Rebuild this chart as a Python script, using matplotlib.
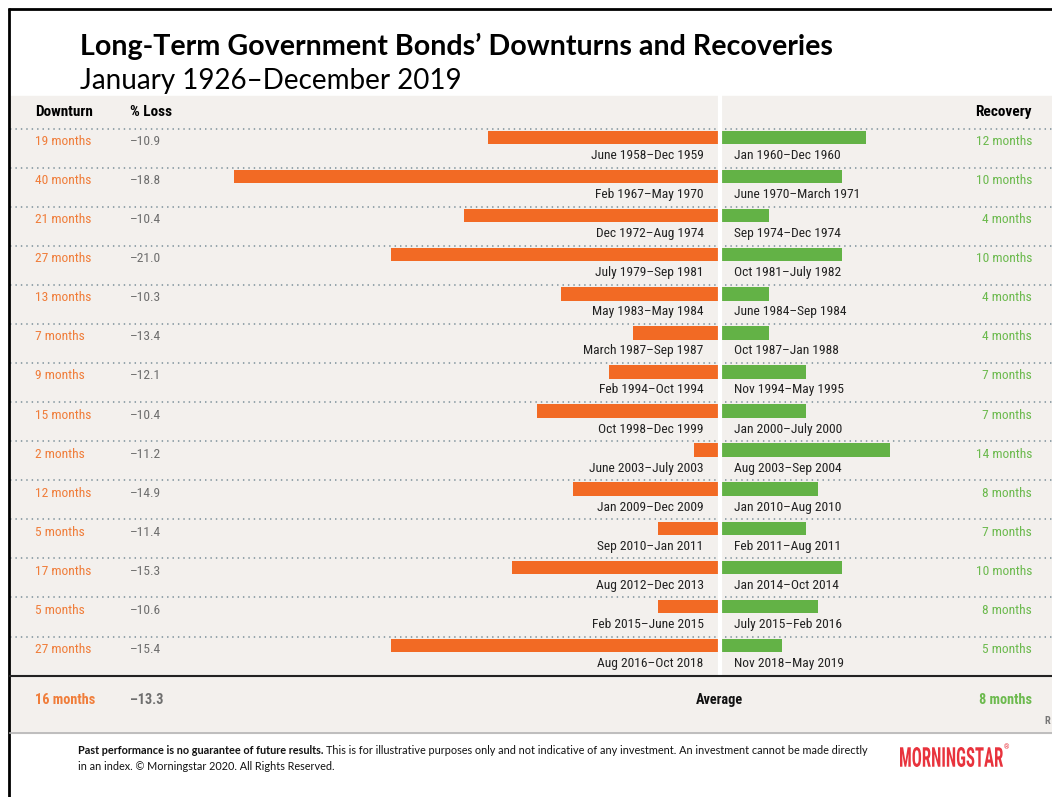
import matplotlib
matplotlib.use("Agg")
import matplotlib.pyplot as plt
from matplotlib import font_manager
from matplotlib.textpath import TextPath
from matplotlib.patches import PathPatch
from matplotlib.transforms import Affine2D

# --- data ---------------------------------------------------------------
downturn_months = [19, 40, 21, 27, 13, 7, 9, 15, 2, 12, 5, 17, 5, 27]
pct_loss = [-10.9, -18.8, -10.4, -21.0, -10.3, -13.4, -12.1, -10.4,
            -11.2, -14.9, -11.4, -15.3, -10.6, -15.4]
recovery_months = [12, 10, 4, 10, 4, 4, 7, 7, 14, 8, 7, 10, 8, 5]
downturn_periods = [
    "June 1958\u2013Dec 1959", "Feb 1967\u2013May 1970", "Dec 1972\u2013Aug 1974",
    "July 1979\u2013Sep 1981", "May 1983\u2013May 1984", "March 1987\u2013Sep 1987",
    "Feb 1994\u2013Oct 1994", "Oct 1998\u2013Dec 1999", "June 2003\u2013July 2003",
    "Jan 2009\u2013Dec 2009", "Sep 2010\u2013Jan 2011", "Aug 2012\u2013Dec 2013",
    "Feb 2015\u2013June 2015", "Aug 2016\u2013Oct 2018",
]
recovery_periods = [
    "Jan 1960\u2013Dec 1960", "June 1970\u2013March 1971", "Sep 1974\u2013Dec 1974",
    "Oct 1981\u2013July 1982", "June 1984\u2013Sep 1984", "Oct 1987\u2013Jan 1988",
    "Nov 1994\u2013May 1995", "Jan 2000\u2013July 2000", "Aug 2003\u2013Sep 2004",
    "Jan 2010\u2013Aug 2010", "Feb 2011\u2013Aug 2011", "Jan 2014\u2013Oct 2014",
    "July 2015\u2013Feb 2016", "Nov 2018\u2013May 2019",
]
avg_downturn = 16
avg_loss = -13.3
avg_recovery = 8

# --- style --------------------------------------------------------------
ORANGE = "#f26a24"
GREEN = "#63b246"
ORANGE_TXT = "#f07d3a"
GREEN_TXT = "#6cba4e"
GREY_TXT = "#6e6e6e"
PANEL = "#f3f0ed"
DOTS = "#8d9ea6"
LOGO_RED = "#e8333d"


def pick_font(names):
    for name in names:
        try:
            font_manager.findfont(font_manager.FontProperties(family=name),
                                  fallback_to_default=False)
            return name
        except ValueError:
            continue
    return "DejaVu Sans"


NARROW = pick_font(["Liberation Sans Narrow", "Roboto Condensed", "Liberation Sans"])
TITLE_FONT = pick_font(["Lato", "Open Sans", "DejaVu Sans"])

W, H = 1052, 797
CENTER = 719.5          # x of the divider between losses and recoveries
PX_PER_MONTH = 12.1
ROW0 = 128.5            # first dotted separator
PITCH = 39.08
LEFT = 10

fig = plt.figure(figsize=(W / 100, H / 100), dpi=100)
ax = fig.add_axes([0, 0, 1, 1])
ax.set_xlim(0, W)
ax.set_ylim(H, 0)
ax.axis("off")

# frame lines
ax.plot([8.5, 8.5], [8, H], color="black", lw=2, solid_capstyle="butt")
ax.plot([8, W], [8.5, 8.5], color="black", lw=2, solid_capstyle="butt")

# grey panel
ax.add_patch(plt.Rectangle((LEFT, 96), W - LEFT, 637, color=PANEL, zorder=0))

# titles
ax.text(80, 46, "Long-Term Government Bonds\u2019 Downturns and Recoveries",
        family=TITLE_FONT, weight="bold", fontsize=20.6, va="center", ha="left")
ax.text(80, 81, "January 1926\u2013December 2019", family=TITLE_FONT,
        fontsize=20, va="center", ha="left", zorder=3)

# header row
hdr = dict(family=NARROW, weight="bold", fontsize=11, va="center")
ax.text(35, 112, "Downturn", ha="left", **hdr)
ax.text(130, 112, "% Loss", ha="left", **hdr)
ax.text(1032, 112, "Recovery", ha="right", **hdr)

n = len(downturn_months)
seps = [ROW0 + PITCH * i for i in range(n)]
bar_y = [s + 9 for s in seps]

for s in seps:
    ax.plot([LEFT, W], [s, s], color=DOTS, lw=1.3, ls=(0, (0.8, 2.2)), zorder=1)

ax.barh(bar_y, [-m * PX_PER_MONTH for m in downturn_months], left=CENTER - 1.5,
        height=13.5, color=ORANGE, zorder=2)
ax.barh(bar_y, [m * PX_PER_MONTH for m in recovery_months], left=CENTER + 1.5,
        height=13.5, color=GREEN, zorder=2)

# divider
ax.plot([CENTER, CENTER], [96, 675], color="white", lw=3, zorder=3)

row_txt = dict(family=NARROW, fontsize=9.7, va="center")
for i in range(n):
    s = seps[i]
    ax.text(35, s + 13, f"{downturn_months[i]} months", color=ORANGE_TXT,
            ha="left", **row_txt)
    ax.text(130, s + 13, f"\u2013{abs(pct_loss[i]):.1f}", color=GREY_TXT,
            ha="left", **row_txt)
    ax.text(1032, s + 13, f"{recovery_months[i]} months", color=GREEN_TXT,
            ha="right", **row_txt)
    ax.text(CENTER - 16, s + 27, downturn_periods[i], color="#222222",
            ha="right", **row_txt)
    ax.text(CENTER + 15, s + 27, recovery_periods[i], color="#222222",
            ha="left", **row_txt)

# average row
ax.plot([LEFT, W], [675.5, 675.5], color="#222222", lw=1.5, zorder=3)
ax.plot([LEFT, W], [733, 733], color="#b5b5b5", lw=1.2, zorder=3)
avg_txt = dict(family=NARROW, weight="bold", fontsize=10.3, va="center")
ax.text(35, 700, f"{avg_downturn} months", color=ORANGE_TXT, ha="left", **avg_txt)
ax.text(130, 700, f"\u2013{abs(avg_loss):.1f}", color=GREY_TXT, ha="left", **avg_txt)
ax.text(CENTER, 700, "Average", color="#111111", ha="center", **avg_txt)
ax.text(1032, 700, f"{avg_recovery} months", color=GREEN_TXT, ha="right", **avg_txt)
ax.text(1044, 721, "R", family=NARROW, weight="bold", fontsize=7.5, color="#777777",
        va="center", ha="left")

# footer
fig.canvas.draw()
rend = fig.canvas.get_renderer()
foot = dict(family=TITLE_FONT, fontsize=7.85, va="center", color="#111111")
b = ax.text(78, 750, "Past performance is no guarantee of future results.",
            weight="bold", ha="left", **foot)
bb = b.get_window_extent(rend)
x_end = ax.transData.inverted().transform((bb.x1, bb.y0))[0]
ax.text(x_end + 3, 750,
        "This is for illustrative purposes only and not indicative of any investment. "
        "An investment cannot be made directly", ha="left", **foot)
ax.text(78, 766, "in an index. \u00a9 Morningstar 2020. All Rights Reserved.",
        ha="left", **foot)

# logo: tall condensed lettering fitted into its box
logo = TextPath((0, 0), "MORNINGSTAR", size=20,
                prop=font_manager.FontProperties(family=NARROW, weight="bold"))
ext = logo.get_extents()
x0, x1, ytop, ybot = 900, 1003, 747, 767
sx = (x1 - x0) / ext.width
sy = (ybot - ytop) / ext.height
tr = (Affine2D().translate(-ext.x0, -ext.y0).scale(sx, -sy)
      .translate(x0, ybot))
ax.add_patch(PathPatch(tr.transform_path(logo), color=LOGO_RED, lw=0, zorder=4))
ax.text(1004, 748, "\u00ae", family=NARROW, fontsize=5, color=LOGO_RED,
        va="center", ha="left")

fig.savefig("out.png", dpi=100)
